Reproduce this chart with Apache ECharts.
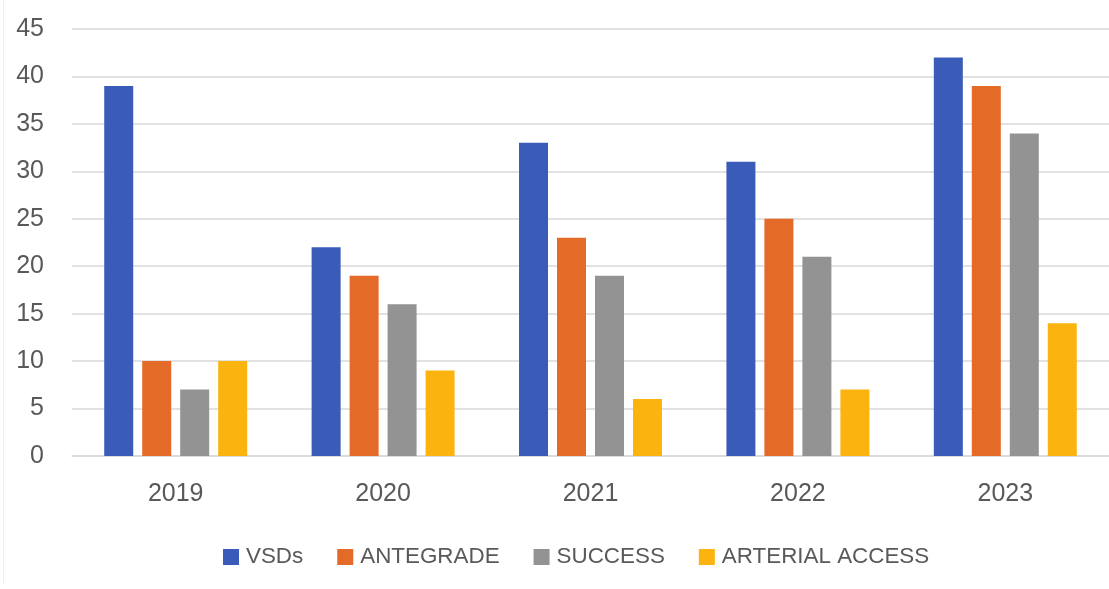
<!DOCTYPE html>
<html>
<head>
<meta charset="utf-8">
<script src="https://cdn.jsdelivr.net/npm/echarts@6/dist/echarts.min.js"></script>
<style>
html,body{margin:0;padding:0;background:#fff;}
#chart{width:1109px;height:589px;}
</style>
</head>
<body>
<div id="chart"></div>
<script>
var categories = ['2019', '2020', '2021', '2022', '2023'];
var seriesNames = ['VSDs', 'ANTEGRADE', 'SUCCESS', 'ARTERIAL ACCESS'];
var vsds = [39, 22, 33, 31, 42];
var antegrade = [10, 19, 23, 25, 39];
var success = [7, 16, 19, 21, 34];
var arterialAccess = [10, 9, 6, 7, 14];
var colors = ['#3A5CB8', '#E46A27', '#939393', '#FBB40F'];

var chart = echarts.init(document.getElementById('chart'));
var seriesData = [vsds, antegrade, success, arterialAccess];
var series = seriesNames.map(function (n, i) {
  return {
    name: n,
    type: 'bar',
    data: seriesData[i],
    barWidth: 29,
    barGap: '31%',
    itemStyle: { color: colors[i] }
  };
});

chart.setOption({
  animation: false,
  color: colors,
  grid: { left: 72, right: 0, top: 29, bottom: 133, containLabel: false },
  legend: {
    bottom: 16,
    left: 218,
    itemWidth: 16,
    itemHeight: 16,
    itemGap: 34,
    icon: 'rect',
    textStyle: { fontFamily: '"Liberation Sans", Arial, sans-serif', fontSize: 22.4, color: '#595959', padding: [0, 0, 0, 2] },
    data: seriesNames
  },
  xAxis: {
    type: 'category',
    data: categories,
    axisLine: { lineStyle: { color: '#d9d9d9', width: 1.5 } },
    axisTick: { show: false },
    axisLabel: { color: '#595959', fontFamily: '"Liberation Sans", Arial, sans-serif', fontSize: 25, margin: 26 }
  },
  yAxis: {
    type: 'value',
    min: 0,
    max: 45,
    interval: 5,
    axisLine: { show: false },
    axisTick: { show: false },
    splitLine: { lineStyle: { color: '#d9d9d9', width: 1.5 } },
    axisLabel: { color: '#595959', fontFamily: '"Liberation Sans", Arial, sans-serif', fontSize: 25, margin: 28 }
  },
  graphic: [{
    type: 'line',
    shape: { x1: 3.5, y1: 0, x2: 3.5, y2: 585 },
    style: { stroke: '#f0f0f0', lineWidth: 1 }
  }],
  series: series
});
</script>
</body>
</html>
